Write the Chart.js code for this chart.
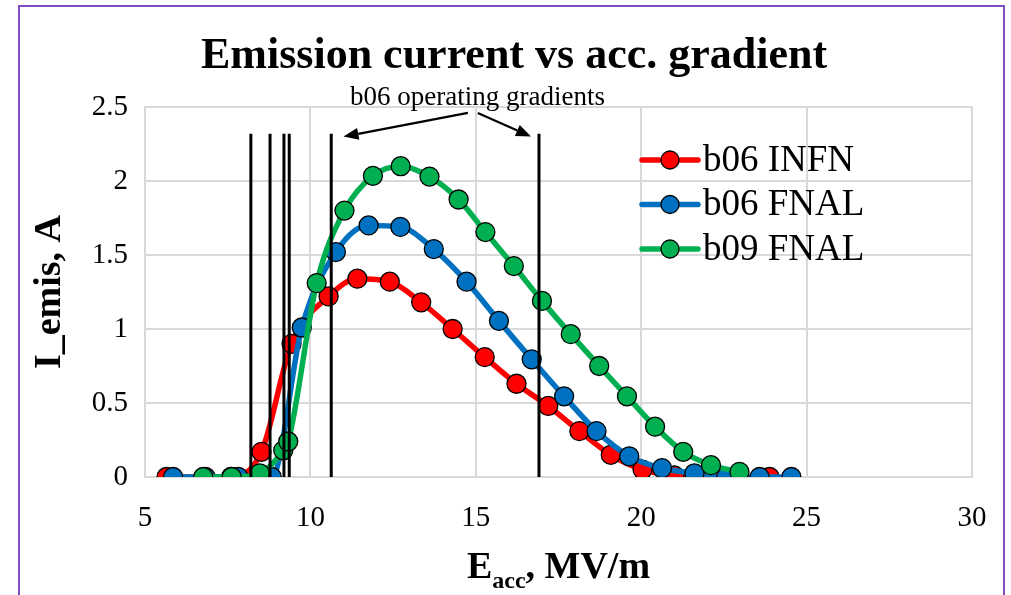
<!DOCTYPE html>
<html>
<head>
<meta charset="utf-8">
<title>Emission current vs acc. gradient</title>
<script src="https://cdn.jsdelivr.net/npm/chart.js@4.4.1/dist/chart.umd.min.js"></script>
<style>
    html, body { margin: 0; padding: 0; background: #fff; }
    #wrap { position: absolute; left: 0; top: 0; width: 1011px; height: 595px; overflow: hidden; }
    #frame { position: absolute; left: 18px; top: 5px; width: 983px; height: 640px; border: 2px solid #7e4ec2; }
    #chart { position: absolute; left: 0; top: 0; }
</style>
</head>
<body>
<div id="wrap">
    <div id="frame"></div>
    <canvas id="chart" width="1011" height="595"></canvas>
</div>
<script>
// Axis ticks
const xTicks = [5, 10, 15, 20, 25, 30];
const yTicks = [0, 0.5, 1, 1.5, 2, 2.5];

// b06 INFN
const b06InfnX = [5.65, 7.6, 8.52, 9.43, 10.55, 11.42, 12.4, 13.35, 14.3, 15.27, 16.23, 17.19, 18.13, 19.08, 20.04, 21.0, 21.96, 22.92, 23.88];
const b06InfnY = [0, 0, 0.17, 0.9, 1.22, 1.34, 1.32, 1.18, 1.0, 0.81, 0.63, 0.48, 0.31, 0.15, 0.05, 0.01, 0, 0, 0];

// b06 FNAL
const b06FnalX = [5.85, 6.83, 7.82, 8.83, 9.74, 10.77, 11.76, 12.72, 13.73, 14.72, 15.7, 16.69, 17.67, 18.65, 19.64, 20.63, 21.61, 22.57, 23.58, 24.54];
const b06FnalY = [0, 0, 0, 0, 1.01, 1.52, 1.7, 1.69, 1.54, 1.32, 1.055, 0.795, 0.545, 0.31, 0.14, 0.06, 0.025, 0, 0, 0];

// b09 FNAL
const b09FnalX = [6.76, 7.62, 8.47, 9.18, 9.33, 10.19, 11.03, 11.89, 12.73, 13.6, 14.48, 15.29, 16.15, 17.0, 17.87, 18.73, 19.57, 20.42, 21.27, 22.11, 22.97];
const b09FnalY = [0, 0, 0.025, 0.18, 0.24, 1.31, 1.8, 2.035, 2.1, 2.03, 1.875, 1.655, 1.425, 1.19, 0.965, 0.75, 0.545, 0.34, 0.17, 0.08, 0.035];

// b06 operating gradients (vertical markers)
const opGradients = [8.2, 8.78, 9.2, 9.36, 10.63, 16.91];
const opLineTop = 2.32;

const SERIF = "'Liberation Serif', 'Times New Roman', serif";
const GRID = '#d9d9d9';

const toPoints = (xs, ys) => xs.map((x, i) => ({ x, y: ys[i] }));

function seriesDataset(label, xs, ys, color, order, row) {
    return {
        label,
        data: toPoints(xs, ys),
        borderColor: color,
        backgroundColor: color,
        borderWidth: 5.5,
        pointRadius: 9.5,
        pointBorderWidth: 1.3,
        pointBorderColor: '#000',
        pointBackgroundColor: color,
        cubicInterpolationMode: 'monotone',
        order,
        legendRow: row
    };
}

const opLineSets = opGradients.map(g => ({
    label: 'op ' + g,
    data: [{ x: g, y: 0 }, { x: g, y: opLineTop }],
    borderColor: '#000',
    borderWidth: 3,
    pointRadius: 0,
    order: 0
}));

// Chart title (drawn here so it can sit off-centre like the original)
const chartTitle = {
    id: 'chartTitle',
    afterDraw(chart) {
        const ctx = chart.ctx;
        ctx.save();
        ctx.fillStyle = '#000';
        ctx.font = `bold 44px ${SERIF}`;
        ctx.textAlign = 'center';
        ctx.textBaseline = 'alphabetic';
        ctx.fillText('Emission current vs acc. gradient', 514, 68);
        ctx.restore();
    }
};

// Legend drawn inside the plot area, like the original
const legendBox = {
    id: 'legendBox',
    afterDraw(chart) {
        const ctx = chart.ctx;
        const items = chart.data.datasets.filter(d => d.legendRow !== undefined)
            .sort((a, b) => a.legendRow - b.legendRow);
        ctx.save();
        items.forEach((d, i) => {
            const y = 160 + i * 44.5;
            ctx.strokeStyle = d.borderColor;
            ctx.lineWidth = 5.5;
            ctx.lineCap = 'round';
            ctx.beginPath();
            ctx.moveTo(642, y);
            ctx.lineTo(698, y);
            ctx.stroke();
            ctx.beginPath();
            ctx.arc(670, y, 9, 0, Math.PI * 2);
            ctx.fillStyle = d.borderColor;
            ctx.fill();
            ctx.lineWidth = 1.3;
            ctx.strokeStyle = '#000';
            ctx.stroke();
            ctx.fillStyle = '#000';
            ctx.font = `37px ${SERIF}`;
            ctx.textAlign = 'left';
            ctx.textBaseline = 'middle';
            ctx.fillText(d.label, 703, y + 1);
        });
        ctx.restore();
    }
};

// "b06 operating gradients" note with arrows
const gradientNote = {
    id: 'gradientNote',
    afterDraw(chart) {
        const { ctx, scales: { x, y } } = chart;
        const px = v => x.getPixelForValue(v);
        const py = v => y.getPixelForValue(v);
        ctx.save();
        ctx.fillStyle = '#000';
        ctx.font = `27px ${SERIF}`;
        ctx.textAlign = 'center';
        ctx.textBaseline = 'alphabetic';
        ctx.fillText('b06 operating gradients', px(15.05), py(2.5) - 2);

        const arrow = (x0, y0, x1, y1) => {
            const a = Math.atan2(y1 - y0, x1 - x0);
            const len = 15, half = 6;
            const bx = x1 - len * Math.cos(a), by = y1 - len * Math.sin(a);
            ctx.strokeStyle = '#000';
            ctx.lineWidth = 2.2;
            ctx.beginPath();
            ctx.moveTo(x0, y0);
            ctx.lineTo(bx, by);
            ctx.stroke();
            ctx.beginPath();
            ctx.moveTo(x1, y1);
            ctx.lineTo(bx + half * Math.sin(a), by - half * Math.cos(a));
            ctx.lineTo(bx - half * Math.sin(a), by + half * Math.cos(a));
            ctx.closePath();
            ctx.fill();
        };
        arrow(px(14.76), py(2.46), px(11.0), py(2.3));
        arrow(px(15.06), py(2.46), px(16.67), py(2.3));
        ctx.restore();
    }
};

// x axis title with subscript
const xTitle = {
    id: 'xTitle',
    afterDraw(chart) {
        const ctx = chart.ctx;
        const area = chart.chartArea;
        const base = area.bottom + 101;
        ctx.save();
        ctx.fillStyle = '#000';
        ctx.textBaseline = 'alphabetic';
        ctx.textAlign = 'left';
        const big = `bold 38px ${SERIF}`;
        const small = `bold 24px ${SERIF}`;
        ctx.font = big;
        const wE = ctx.measureText('E').width;
        const wRest = ctx.measureText(', MV/m').width;
        ctx.font = small;
        const wSub = ctx.measureText('acc').width;
        let cx = (area.left + area.right) / 2 - (wE + wSub + wRest) / 2;
        ctx.font = big;
        ctx.fillText('E', cx, base);
        cx += wE;
        ctx.font = small;
        ctx.fillText('acc', cx, base + 10);
        cx += wSub;
        ctx.font = big;
        ctx.fillText(', MV/m', cx, base);
        ctx.restore();
    }
};

const ctx = document.getElementById('chart').getContext('2d');
new Chart(ctx, {
    type: 'line',
    data: {
        datasets: [
            ...opLineSets,
            seriesDataset('b09 FNAL', b09FnalX, b09FnalY, '#00b050', 1, 2),
            seriesDataset('b06 FNAL', b06FnalX, b06FnalY, '#0070c0', 2, 1),
            seriesDataset('b06 INFN', b06InfnX, b06InfnY, '#ff0000', 3, 0)
        ]
    },
    options: {
        responsive: false,
        animation: false,
        layout: { padding: { left: 0, right: 39, top: 107, bottom: 0 } },
        plugins: {
            legend: { display: false },
            tooltip: { enabled: false },
            title: { display: false }
        },
        scales: {
            x: {
                type: 'linear',
                min: 5,
                max: 30,
                afterBuildTicks: s => { s.ticks = xTicks.map(v => ({ value: v })); },
                afterFit: s => { s.height = 118; },
                grid: { color: GRID, lineWidth: 2, drawTicks: false },
                border: { color: GRID, width: 2 },
                ticks: {
                    color: '#000',
                    padding: 24,
                    font: { family: SERIF, size: 29 },
                    callback: v => String(v)
                }
            },
            y: {
                min: 0,
                max: 2.5,
                afterBuildTicks: s => { s.ticks = yTicks.map(v => ({ value: v })); },
                afterFit: s => { s.width = 145; },
                grid: { color: GRID, lineWidth: 2, drawTicks: false },
                border: { color: GRID, width: 2 },
                ticks: {
                    color: '#000',
                    padding: 17,
                    font: { family: SERIF, size: 29 },
                    callback: v => String(v)
                },
                title: {
                    display: true,
                    text: 'I_emis, A',
                    color: '#000',
                    font: { family: SERIF, size: 38, weight: 'bold', lineHeight: 1 },
                    padding: { top: 31, bottom: 0 }
                }
            }
        }
    },
    plugins: [chartTitle, gradientNote, legendBox, xTitle]
});
</script>
</body>
</html>
